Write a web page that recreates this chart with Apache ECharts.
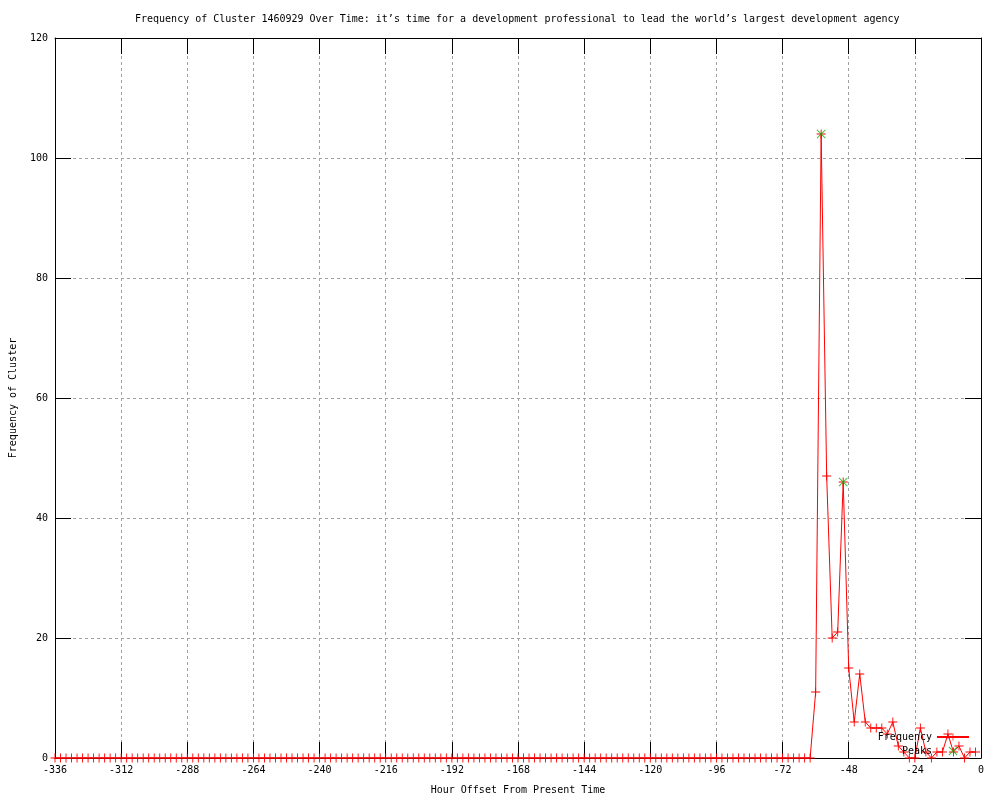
<!DOCTYPE html>
<html>
<head>
<meta charset="utf-8">
<script src="https://cdn.jsdelivr.net/npm/echarts@6/dist/echarts.min.js"></script>
<style>html,body{margin:0;padding:0;background:#fff}#c{width:1000px;height:800px}</style>
</head>
<body>
<div id="c"></div>
<script>
// Hours from present, every 2 hours, starting at -336
const startHour = -336;
const stepHours = 2;
// Frequency values (one per 2-hour bin, from -336 to -2)
const frequency = [
  0,0,0,0,0,0,0,0,0,0, 0,0,0,0,0,0,0,0,0,0,
  0,0,0,0,0,0,0,0,0,0, 0,0,0,0,0,0,0,0,0,0,
  0,0,0,0,0,0,0,0,0,0, 0,0,0,0,0,0,0,0,0,0,
  0,0,0,0,0,0,0,0,0,0, 0,0,0,0,0,0,0,0,0,0,
  0,0,0,0,0,0,0,0,0,0, 0,0,0,0,0,0,0,0,0,0,
  0,0,0,0,0,0,0,0,0,0, 0,0,0,0,0,0,0,0,0,0,
  0,0,0,0,0,0,0,0,0,0, 0,0,0,0,0,0,0,0,
  11,104,47,20,21,46,15,6,14,6,
  5,5,5,4,6,2,1,0,0,5,
  1,0,1,1,4,1,2,0,1,1
];
const peakHours = [-58, -50];
const peakValues = [104, 46];
const xTicks = {min: -336, max: 0, interval: 24};
const yTicks = {min: 0, max: 120, interval: 20};

const freqData = frequency.map((v, i) => [startHour + stepHours * i, v]);
const peakData = peakHours.map((h, i) => [h, peakValues[i]]);

const FONT = 'DejaVu Sans Mono';
const plusPath = 'path://M0,4.5H10V5.5H0Z M4.5,0H5.5V10H4.5Z';
const xPath = 'path://M0,0.7L0.7,0L10,9.3L9.3,10Z M9.3,0L10,0.7L0.7,10L0,9.3Z';

const chart = echarts.init(document.getElementById('c'), null, {renderer: 'canvas'});
const grid = {left: 55, right: 19, top: 38, bottom: 40, show: false};
const splitStyle = {show: true, lineStyle: {color: '#a0a0a0', type: [3, 3], width: 1}};
const tickStyle = {show: true, inside: true, length: 16, lineStyle: {color: '#000', width: 1}};
const lineStyleAxis = {show: true, onZero: false, lineStyle: {color: '#000', width: 1}};
chart.setOption({
  animation: false,
  backgroundColor: '#fff',
  textStyle: {fontFamily: FONT, color: '#000'},
  title: {
    text: 'Frequency of Cluster 1460929 Over Time: it’s time for a development professional to lead the world’s largest development agency',
    left: 130, top: 9,
    textStyle: {fontFamily: FONT, fontSize: 10, fontWeight: 'normal', color: '#000'}
  },
  legend: {
    orient: 'vertical', align: 'right', right: 25, top: 727,
    itemWidth: 32, itemHeight: 9, itemGap: 4,
    textStyle: {fontFamily: FONT, fontSize: 10, color: '#000'},
    data: ['Frequency', 'Peaks']
  },
  grid: grid,
  xAxis: [{
    type: 'value', min: xTicks.min, max: xTicks.max, interval: xTicks.interval,
    name: 'Hour Offset From Present Time', nameLocation: 'middle', nameGap: 27,
    nameTextStyle: {fontFamily: FONT, fontSize: 10, color: '#000'},
    axisLine: lineStyleAxis,
    axisTick: tickStyle,
    axisLabel: {fontFamily: FONT, fontSize: 10, color: '#000', margin: 7},
    splitLine: splitStyle
  }, {
    type: 'value', position: 'top', min: xTicks.min, max: xTicks.max, interval: xTicks.interval,
    axisLine: lineStyleAxis,
    axisTick: tickStyle,
    axisLabel: {show: false}, splitLine: {show: false}
  }],
  yAxis: [{
    type: 'value', position: 'left', min: yTicks.min, max: yTicks.max, interval: yTicks.interval,
    name: 'Frequency of Cluster', nameLocation: 'middle', nameGap: 37,
    nameTextStyle: {fontFamily: FONT, fontSize: 10, color: '#000'},
    axisLine: lineStyleAxis,
    axisTick: tickStyle,
    axisLabel: {fontFamily: FONT, fontSize: 10, color: '#000', margin: 7},
    splitLine: splitStyle
  }, {
    type: 'value', position: 'right', min: yTicks.min, max: yTicks.max, interval: yTicks.interval,
    axisLine: lineStyleAxis,
    axisTick: tickStyle,
    axisLabel: {show: false}, splitLine: {show: false}
  }],
  series: [{
    name: 'Frequency', type: 'line', data: freqData,
    xAxisIndex: 0, yAxisIndex: 0,
    symbol: plusPath, symbolSize: 9, showSymbol: true, showAllSymbol: true,
    lineStyle: {color: '#ff0000', width: 1},
    itemStyle: {color: '#ff0000'},
    emphasis: {disabled: true}, z: 3
  }, {
    name: 'Peaks', type: 'scatter', data: peakData,
    xAxisIndex: 0, yAxisIndex: 0,
    symbol: xPath, symbolSize: 9,
    itemStyle: {color: '#00b000'},
    emphasis: {disabled: true}, z: 4
  }]
});
</script>
</body>
</html>
